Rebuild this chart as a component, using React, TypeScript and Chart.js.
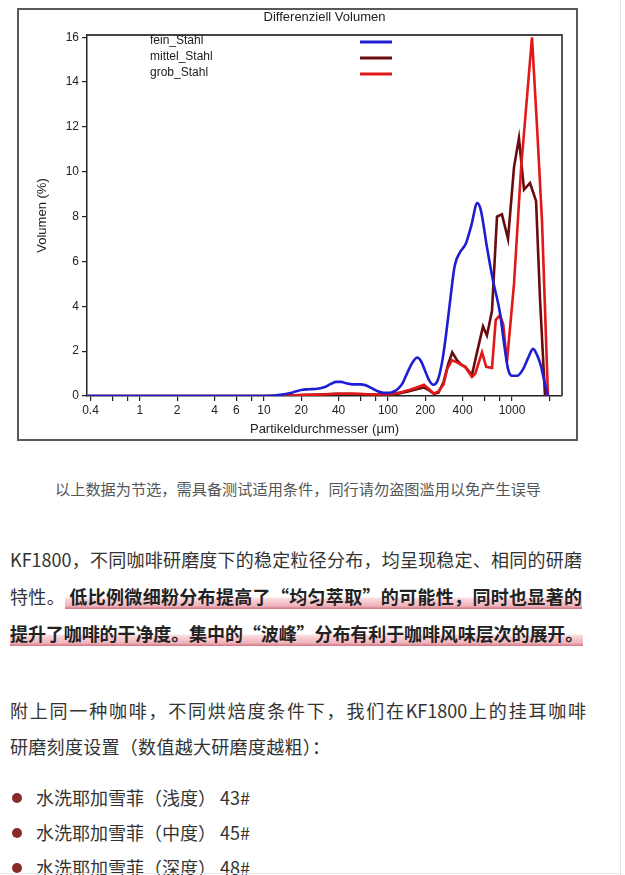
import React, { useEffect, useRef } from 'react';
import { Chart, registerables } from 'chart.js';

Chart.register(...registerables);

const chartTitle = 'Differenziell Volumen';
const xAxisTitle = 'Partikeldurchmesser (µm)';
const yAxisTitle = 'Volumen (%)';

const seriesLabels = ['fein_Stahl', 'mittel_Stahl', 'grob_Stahl'];
const seriesColors = ['#1d1dd2', '#6a0c0c', '#e21818'];

const feinSize = [0.38, 10, 12, 14, 16, 18, 20, 23, 27, 31, 35, 38, 42, 46, 52, 60, 66, 74, 82, 92, 102, 112, 122, 132, 145, 158, 172, 185, 200, 215, 232, 252, 275, 295, 318, 345, 380, 425, 470, 525, 560, 630, 700, 800, 870, 930, 1000, 1100, 1230, 1350, 1480, 1600, 1700, 1800, 1950];
const feinVol = [0, 0, 0.02, 0.06, 0.12, 0.2, 0.27, 0.3, 0.32, 0.4, 0.55, 0.63, 0.63, 0.57, 0.52, 0.52, 0.48, 0.35, 0.22, 0.14, 0.14, 0.2, 0.35, 0.6, 1.1, 1.5, 1.72, 1.55, 1.1, 0.7, 0.5, 0.7, 1.6, 2.8, 4.3, 5.8, 6.4, 6.8, 7.6, 8.6, 8.3, 6.6, 5.2, 3.7, 2.2, 1.2, 0.9, 0.9, 1.2, 1.7, 2.1, 1.8, 1.4, 0.8, 0];

const mittelSize = [0.38, 12, 16, 20, 28, 38, 50, 65, 85, 100, 120, 145, 170, 195, 215, 235, 255, 280, 305, 330, 360, 390, 420, 450, 476, 520, 584, 628, 690, 757, 830, 929, 1038, 1138, 1250, 1397, 1563, 1683, 1846];
const mittelVol = [0, 0, 0.02, 0.04, 0.07, 0.1, 0.1, 0.08, 0.05, 0.05, 0.1, 0.2, 0.3, 0.38, 0.25, 0.1, 0.15, 0.6, 1.4, 1.95, 1.6, 1.4, 1.3, 1.1, 0.95, 1.9, 3.1, 2.7, 3.8, 8.0, 8.1, 7.0, 10.2, 11.5, 9.2, 9.5, 8.7, 4.3, 0];

const grobSize = [0.38, 12, 16, 20, 30, 40, 55, 70, 90, 110, 130, 150, 175, 195, 215, 235, 255, 280, 300, 328, 360, 418, 476, 506, 573, 620, 690, 740, 800, 850, 910, 1038, 1185, 1297, 1449, 1592, 1746, 1950];
const grobVol = [0, 0, 0.02, 0.04, 0.07, 0.1, 0.1, 0.08, 0.07, 0.1, 0.18, 0.28, 0.4, 0.5, 0.3, 0.1, 0.2, 0.5, 1.2, 1.6, 1.5, 1.3, 0.85, 1.0, 1.95, 1.3, 1.25, 3.4, 3.6, 3.2, 1.5, 5.0, 10.2, 12.8, 16.0, 12.0, 7.8, 0];

const xTickValues = [0.4, 0.6, 0.8, 1, 2, 4, 6, 8, 10, 20, 40, 60, 80, 100, 200, 400, 600, 800, 1000, 2000];
const xTickLabels = [0.4, 1, 2, 4, 6, 10, 20, 40, 100, 200, 400, 1000];
const yTickValues = [0, 2, 4, 6, 8, 10, 12, 14, 16];

const captionText = '以上数据为节选，需具备测试适用条件，同行请勿盗图滥用以免产生误导';
const bulletItems = ['水洗耶加雪菲（浅度） 43#', '水洗耶加雪菲（中度） 45#', '水洗耶加雪菲（深度） 48#'];

const FONT = "'Liberation Sans Narrow', 'Liberation Sans', Arial, sans-serif";
const CJK = "'Noto Sans CJK SC', 'Noto Sans', sans-serif";

const toPoints = (xs: number[], ys: number[]) => xs.map((x, i) => ({ x, y: ys[i] }));

const framePlugin = {
  id: 'frameAndLegend',
  afterDraw(chart: any) {
    const { ctx, chartArea: a } = chart;
    ctx.save();
    ctx.strokeStyle = '#444';
    ctx.lineWidth = 1.8;
    ctx.beginPath();
    ctx.moveTo(a.left, a.top);
    ctx.lineTo(a.right, a.top);
    ctx.lineTo(a.right, a.bottom);
    ctx.stroke();
    ctx.fillStyle = '#222';
    ctx.font = `13px ${FONT}`;
    ctx.textAlign = 'center';
    ctx.textBaseline = 'middle';
    ctx.fillText(chartTitle, (a.left + a.right) / 2, a.top - 18);
    [0, 1, 2].forEach((i) => {
      const ds = chart.data.datasets[i];
      const y = a.top + 6 + i * 16;
      ctx.textAlign = 'left';
      ctx.font = `12px ${FONT}`;
      ctx.fillStyle = '#222';
      ctx.fillText(ds.label, a.left + 63, y);
      ctx.strokeStyle = ds.borderColor;
      ctx.lineWidth = 3;
      ctx.beginPath();
      ctx.moveTo(a.left + 273, y + 1);
      ctx.lineTo(a.left + 305, y + 1);
      ctx.stroke();
    });
    ctx.restore();
  },
};

function DistChart() {
  const ref = useRef<HTMLCanvasElement | null>(null);
  useEffect(() => {
    if (!ref.current) return;
    const chart = new Chart(ref.current, {
      type: 'line',
      data: {
        datasets: [
          { label: seriesLabels[0], data: toPoints(feinSize, feinVol), borderColor: seriesColors[0], borderWidth: 2.6, pointRadius: 0, cubicInterpolationMode: 'monotone', order: 1 } as any,
          { label: seriesLabels[1], data: toPoints(mittelSize, mittelVol), borderColor: seriesColors[1], borderWidth: 2.6, pointRadius: 0, tension: 0, order: 3 } as any,
          { label: seriesLabels[2], data: toPoints(grobSize, grobVol), borderColor: seriesColors[2], borderWidth: 2.6, pointRadius: 0, tension: 0, order: 2 } as any,
        ],
      },
      options: {
        animation: false,
        responsive: false,
        layout: { padding: { top: 25, right: 14, left: 0, bottom: 0 } },
        plugins: { legend: { display: false }, tooltip: { enabled: false }, title: { display: false } },
        scales: {
          x: {
            type: 'logarithmic',
            min: 0.375,
            max: 2530,
            afterBuildTicks: (s: any) => { s.ticks = xTickValues.map((v) => ({ value: v })); },
            afterFit: (s: any) => { s.height = 43; },
            ticks: {
              autoSkip: false, maxRotation: 0, minRotation: 0, padding: 2, color: '#222',
              font: { family: FONT, size: 12 },
              callback: (v: any) => (xTickLabels.includes(Number(v)) ? String(v) : ''),
            },
            grid: { drawOnChartArea: false, drawTicks: true, tickLength: 5, color: '#222', lineWidth: 1.2 },
            border: { display: true, color: '#222', width: 1.5 },
            title: { display: true, text: xAxisTitle, color: '#222', font: { family: FONT, size: 13 }, padding: { top: 0, bottom: 2 } },
          },
          y: {
            type: 'linear',
            min: 0,
            max: 16.1,
            afterBuildTicks: (s: any) => { s.ticks = yTickValues.map((v) => ({ value: v })); },
            afterFit: (s: any) => { s.width = 68; },
            ticks: { padding: 3, color: '#222', font: { family: FONT, size: 12 } },
            grid: { drawOnChartArea: false, drawTicks: true, tickLength: 5, color: '#222', lineWidth: 1.2 },
            border: { display: true, color: '#222', width: 1.5 },
            title: { display: true, text: yAxisTitle, color: '#222', font: { family: FONT, size: 13 }, padding: { top: 16, bottom: 0 } },
          },
        },
      } as any,
      plugins: [framePlugin],
    });
    return () => chart.destroy();
  }, []);
  return <canvas ref={ref} width={557} height={429} style={{ display: 'block', width: 557, height: 429 }} />;
}

const lineBase: React.CSSProperties = {
  position: 'absolute',
  left: 10,
  height: 26,
  lineHeight: '26px',
  fontSize: 18,
  color: '#333',
  whiteSpace: 'nowrap',
  fontFamily: CJK,
};

const justified = (w: number): React.CSSProperties => ({ width: w, textAlign: 'justify', textAlignLast: 'justify' as any, whiteSpace: 'normal' });

const hl: React.CSSProperties = {
  fontWeight: 700,
  color: '#222',
  background: 'linear-gradient(180deg, rgba(255,255,255,0) 52%, rgba(244,180,188,0.55) 62%, rgba(234,150,162,0.72) 88%, rgba(204,96,112,0.88) 100%)',
};

export default function App() {
  useEffect(() => {
    document.body.style.margin = '0';
  }, []);
  return (
    <div lang="zh-CN" style={{ position: 'relative', width: 625, height: 875, overflow: 'hidden', background: '#fff', fontFamily: CJK }}>
      <div style={{ position: 'absolute', left: 17, top: 8, width: 561, height: 433, border: '2px solid #5a5a5a', boxSizing: 'border-box', background: '#fff' }}>
        <DistChart />
      </div>
      <div style={{ position: 'absolute', left: 0, width: 596, top: 475, height: 26, lineHeight: '26px', fontSize: 15.2, color: '#555', textAlign: 'center' }}>{captionText}</div>

      <div style={{ ...lineBase, ...justified(572), top: 546 }}>KF1800，不同咖啡研磨度下的稳定粒径分布，均呈现稳定、相同的研磨</div>
      <div style={{ ...lineBase, ...justified(572), top: 583 }}>特性。<span style={hl}> 低比例微细粉分布提高了“均匀萃取”的可能性，同时也显著的</span></div>
      <div style={{ ...lineBase, ...justified(573), top: 620, letterSpacing: '-0.25px' }}><span style={hl}>提升了咖啡的干净度。集中的“波峰”分布有利于咖啡风味层次的展开。</span></div>

      <div style={{ ...lineBase, ...justified(576), top: 697 }}>附上同一种咖啡，不同烘焙度条件下，我们在KF1800上的挂耳咖啡</div>
      <div style={{ ...lineBase, top: 733, letterSpacing: '0.3px' }}>研磨刻度设置（数值越大研磨度越粗）：</div>

      {bulletItems.map((t, i) => (
        <React.Fragment key={i}>
          <div style={{ position: 'absolute', left: 12, top: 798 + i * 35 - 5, width: 10, height: 10, borderRadius: 5, background: '#862a2a' }} />
          <div style={{ ...lineBase, left: 36, top: 784 + i * 35 }}>{t}</div>
        </React.Fragment>
      ))}

      <div style={{ position: 'absolute', left: 620, top: 0, width: 1, height: 875, background: '#e2e2e2' }} />
      <div style={{ position: 'absolute', left: 0, top: 873, width: 620, height: 1, background: '#e8e8e8' }} />
    </div>
  );
}
